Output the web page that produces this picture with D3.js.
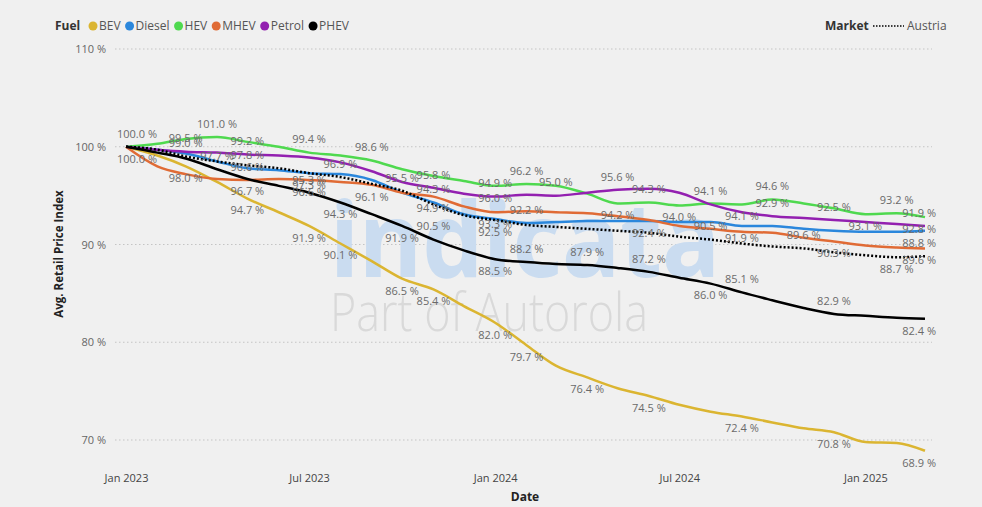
<!DOCTYPE html>
<html>
<head>
<meta charset="utf-8">
<script src="https://cdn.jsdelivr.net/npm/d3@7"></script>
<style>
  body { margin: 0; background: #f0f0f0; }
  svg { display: block; font-family: "Open Sans", sans-serif; }
</style>
</head>
<body>
<svg id="chart"></svg>
<script>
// monthly index values, Jan 2023 .. Mar 2025
const months = ["2023-01","2023-02","2023-03","2023-04","2023-05","2023-06","2023-07","2023-08","2023-09",
  "2023-10","2023-11","2023-12","2024-01","2024-02","2024-03","2024-04","2024-05","2024-06","2024-07",
  "2024-08","2024-09","2024-10","2024-11","2024-12","2025-01","2025-02","2025-03"];

const bev    = [100, 99.1, 98.0, 96.4, 94.7, 93.3, 91.9, 90.1, 88.3, 86.5, 85.4, 83.7, 82.0, 79.7, 77.6, 76.4, 75.3, 74.5, 73.6, 72.9, 72.4, 71.8, 71.2, 70.8, 69.8, 69.7, 68.9];
const diesel = [100, 99.7, 99.3, 98.5, 97.8, 97.6, 97.3, 97.2, 96.6, 95.3, 94.3, 93.1, 92.6, 92.2, 92.3, 92.4, 92.4, 92.4, 92.3, 92.3, 91.9, 91.9, 91.6, 91.4, 91.3, 91.3, 91.4];
const hev    = [100, 100.3, 100.8, 101.0, 100.5, 100.0, 99.4, 99.1, 98.6, 97.7, 97.0, 96.5, 96.0, 96.2, 96.0, 95.2, 94.2, 94.3, 94.0, 94.2, 94.1, 94.6, 94.2, 93.7, 93.1, 93.2, 92.8];
const mhev   = [100, 98.0, 97.2, 96.7, 96.6, 96.7, 96.6, 96.4, 96.1, 95.3, 94.9, 93.9, 93.3, 93.4, 93.3, 93.2, 92.9, 92.5, 91.9, 91.6, 91.3, 91.2, 90.7, 90.3, 89.9, 89.7, 89.6];
const petrol = [100, 99.7, 99.5, 99.4, 99.2, 99.1, 98.9, 98.4, 97.5, 96.4, 95.8, 95.2, 94.9, 95.1, 95.0, 95.3, 95.6, 95.7, 95.3, 94.1, 93.3, 92.9, 92.7, 92.5, 92.3, 92.1, 91.9];
const phev   = [100, 99.4, 98.8, 97.7, 96.7, 96.0, 95.3, 94.3, 93.1, 91.9, 90.5, 89.4, 88.5, 88.2, 88.0, 87.9, 87.6, 87.2, 86.6, 86.0, 85.1, 84.3, 83.5, 82.9, 82.7, 82.5, 82.4];
const austria = [100, 99.7, 99.0, 98.5, 98.1, 97.8, 97.3, 96.9, 96.2, 95.5, 94.1, 93.0, 92.5, 92.0, 91.8, 91.6, 91.4, 91.2, 90.8, 90.5, 90.1, 89.8, 89.6, 89.2, 88.9, 88.7, 88.8];

// which points get a data label, and on which side
const bevLabels    = [[2,"b"],[4,"b"],[6,"b"],[7,"b"],[9,"b"],[10,"b"],[12,"b"],[13,"b"],[15,"b"],[17,"b"],[20,"b"],[23,"b"],[26,"b"]];
const dieselLabels = [[4,"a"],[6,"b"],[10,"a"],[13,"a"],[17,"b"],[20,"b"]];
const hevLabels    = [[3,"a"],[6,"a"],[8,"a"],[12,"b"],[13,"a"],[16,"b"],[17,"a"],[18,"b"],[20,"b"],[21,"a"],[24,"b"],[25,"a"],[26,"b"]];
const mhevLabels   = [[0,"b"],[4,"a"],[6,"b"],[8,"b"],[10,"b"],[12,"b"],[23,"b"],[26,"b"]];
const petrolLabels = [[2,"a"],[4,"a"],[10,"a"],[12,"a"],[14,"a"],[16,"a"],[19,"a"],[21,"a"],[23,"a"],[26,"a"]];
const phevLabels   = [[0,"a"],[3,"a"],[4,"b"],[6,"a"],[7,"b"],[9,"b"],[10,"a"],[12,"b"],[13,"a"],[15,"a"],[17,"a"],[19,"b"],[20,"a"],[23,"a"],[26,"b"]];
const austriaLabels = [[2,"a"],[7,"a"],[9,"a"],[12,"b"],[19,"a"],[22,"a"],[25,"b"],[26,"a"]];

const yTicks = [70, 80, 90, 100, 110];
const xTicks = ["2023-01", "2023-07", "2024-01", "2024-07", "2025-01"];

const fuels = [
  { key: "BEV", values: bev, labels: bevLabels, color: "#dbb531" },
  { key: "Diesel", values: diesel, labels: dieselLabels, color: "#2b87dc" },
  { key: "HEV", values: hev, labels: hevLabels, color: "#4fd94f" },
  { key: "MHEV", values: mhev, labels: mhevLabels, color: "#e06b35" },
  { key: "Petrol", values: petrol, labels: petrolLabels, color: "#9320b0" },
  { key: "PHEV", values: phev, labels: phevLabels, color: "#000000" },
];
const market = { key: "Austria", values: austria, labels: austriaLabels, color: "#000000" };

const width = 982, height = 507;
const margin = { top: 49, right: 57, bottom: 67, left: 126 };

const svg = d3.select("#chart").attr("width", width).attr("height", height);
svg.append("rect").attr("width", width).attr("height", height).attr("fill", "#f0f0f0");

const parse = d3.timeParse("%Y-%m");
const dates = months.map(parse);

const scaleX = d3.scaleTime()
  .domain(d3.extent(dates))
  .range([margin.left, width - margin.right]);

const scaleY = d3.scaleLinear()
  .domain([70, 110])
  .range([height - margin.bottom, margin.top]);

// grid lines
svg.append("g")
  .selectAll("line")
  .data(yTicks)
  .join("line")
  .attr("x1", 115)
  .attr("x2", 932)
  .attr("y1", d => scaleY(d))
  .attr("y2", d => scaleY(d))
  .attr("stroke", "#c4c4c4")
  .attr("stroke-dasharray", "1.5,2.5");

// y axis
svg.append("g")
  .attr("transform", "translate(106,0)")
  .call(d3.axisLeft(scaleY).tickValues(yTicks).tickFormat(d => d + " %").tickSize(0).tickPadding(0))
  .call(g => g.select(".domain").remove())
  .call(g => g.selectAll("text").attr("fill", "#666").style("font", "11px 'Open Sans'"));

svg.append("text")
  .attr("transform", "translate(63,254) rotate(-90)")
  .attr("text-anchor", "middle")
  .attr("fill", "#222")
  .style("font", "bold 11.5px 'Open Sans'")
  .text("Avg. Retail Price Index");

// x axis
svg.append("g")
  .attr("transform", `translate(0,474)`)
  .call(d3.axisBottom(scaleX).tickValues(xTicks.map(parse)).tickFormat(d3.timeFormat("%b %Y")).tickSize(0).tickPadding(0))
  .call(g => g.select(".domain").remove())
  .call(g => g.selectAll("text").attr("fill", "#444").style("font", "11px 'Open Sans'"));

svg.append("text")
  .attr("x", 525)
  .attr("y", 501)
  .attr("text-anchor", "middle")
  .attr("fill", "#222")
  .style("font", "bold 12px 'Open Sans'")
  .text("Date");

// watermark
svg.append("text")
  .attr("x", 330)
  .attr("y", 277)
  .attr("textLength", 390)
  .attr("lengthAdjust", "spacingAndGlyphs")
  .attr("fill", "#cadcf0")
  .style("font", "bold 104px 'Noto Sans'")
  .text("indicata");

svg.append("text")
  .attr("x", 330)
  .attr("y", 331)
  .attr("textLength", 318)
  .attr("lengthAdjust", "spacingAndGlyphs")
  .attr("fill", "#d9d9d9")
  .style("font", "300 54px 'Open Sans'")
  .text("Part of Autorola");

// lines
const line = d3.line()
  .x((d, i) => scaleX(dates[i]))
  .y(d => scaleY(d))
  .curve(d3.curveMonotoneX);

svg.append("g")
  .selectAll("path")
  .data(fuels)
  .join("path")
  .attr("fill", "none")
  .attr("stroke", d => d.color)
  .attr("stroke-width", 2.5)
  .attr("stroke-linejoin", "round")
  .attr("d", d => line(d.values));

svg.append("path")
  .attr("fill", "none")
  .attr("stroke", market.color)
  .attr("stroke-width", 2.5)
  .attr("stroke-dasharray", "2,2")
  .attr("d", line(market.values));

// data labels
const fmt = d3.format(".1f");
const labelData = fuels.concat([market]).flatMap(s =>
  s.labels.map(([i, side]) => ({ i, side, v: s.values[i] })));

const labels = svg.append("g")
  .style("font", "11px 'Open Sans'")
  .attr("fill", "#6a6a6a")
  .selectAll("text")
  .data(labelData)
  .join("text")
  .attr("text-anchor", "middle")
  .attr("dy", "0.35em")
  .attr("y", d => scaleY(d.v) + (d.side === "a" ? -13 : 12))
  .text(d => fmt(d.v) + " %");

// keep labels inside the plot area
labels.attr("x", function (d) {
  const w = this.getComputedTextLength();
  const px = scaleX(dates[d.i]);
  return Math.max(117 + w / 2, Math.min(px, 936 - w / 2));
});

// legend
const legend = svg.append("g").style("font", "12px 'Open Sans'");
legend.append("text")
  .attr("x", 55).attr("y", 30)
  .attr("fill", "#333")
  .style("font-weight", "bold")
  .text("Fuel");

let lx = 88;
fuels.forEach(f => {
  legend.append("circle")
    .attr("cx", lx + 5).attr("cy", 26).attr("r", 4.5)
    .attr("fill", f.color);
  const t = legend.append("text")
    .attr("x", lx + 11).attr("y", 30)
    .attr("fill", "#555")
    .text(f.key);
  lx += 11 + t.node().getComputedTextLength() + 4;
});

legend.append("text")
  .attr("x", 825).attr("y", 30)
  .attr("fill", "#333")
  .style("font-weight", "bold")
  .text("Market");
legend.append("line")
  .attr("x1", 873).attr("x2", 904)
  .attr("y1", 26).attr("y2", 26)
  .attr("stroke", "#000")
  .attr("stroke-width", 1.5)
  .attr("stroke-dasharray", "1.5,1.5");
legend.append("text")
  .attr("x", 907).attr("y", 30)
  .attr("fill", "#555")
  .text("Austria");
</script>
</body>
</html>
